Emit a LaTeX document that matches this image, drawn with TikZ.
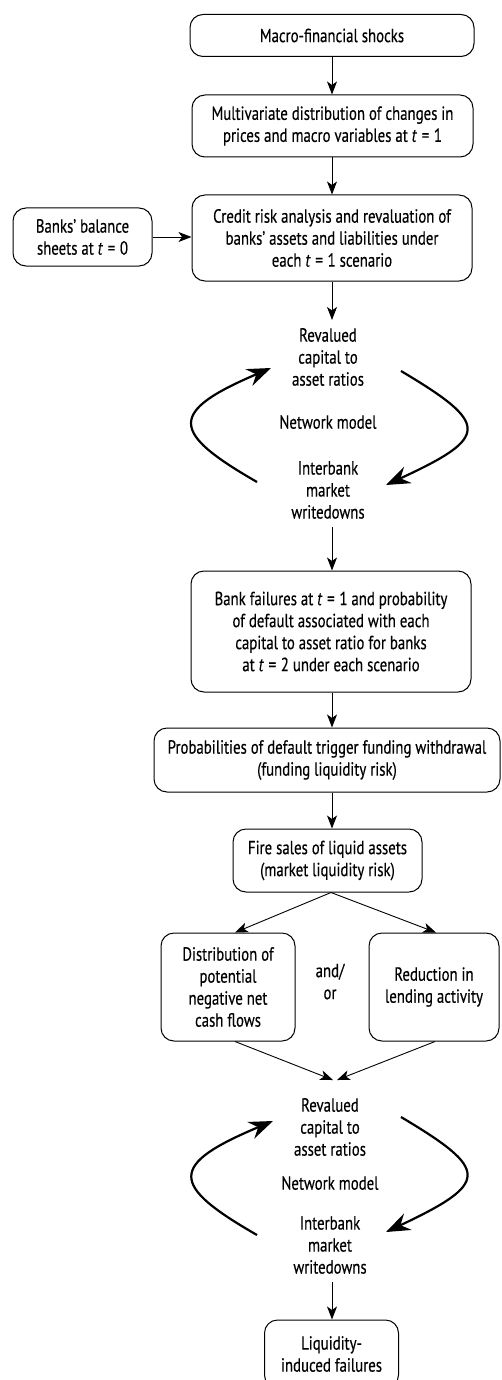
\documentclass[tikz,border=0pt]{standalone}
\usepackage{fontspec}
\setmainfont{PT Sans}[FakeStretch=0.78,FakeBold=0.35]
\usetikzlibrary{arrows.meta}
\newcommand{\tv}[1]{\textit{t}\hspace{0.25em}=\hspace{0.25em}#1}
\begin{document}
\begin{tikzpicture}[x=1pt,y=-1pt,
  font=\fontsize{19}{22}\selectfont,
  box/.style={draw, rounded corners=13pt, line width=1pt, align=center, inner sep=0pt},
  plain/.style={align=center, inner xsep=0pt, inner ysep=8pt},
  conn/.style={line width=0.9pt, -{Stealth[length=13pt,width=10pt,inset=3.5pt]}},
  loop/.style={line width=2.2pt, -{Stealth[length=24pt,width=18pt,inset=8pt]}}]
\clip (0,0) rectangle (502,1380);

\node[box, minimum width=284, minimum height=42] (m1) at (332,35.5) {Macro-financial shocks};
\node[box, minimum width=281, minimum height=62] (m2) at (332.5,126) {Multivariate distribution of changes in\\prices and macro variables at \tv{1}};
\node[box, minimum width=280, minimum height=86] (m3) at (332,238) {Credit risk analysis and revaluation of\\banks' assets and liabilities under\\each \tv{1} scenario};
\node[box, minimum width=139, minimum height=58] (bal) at (82.5,237) {Banks' balance\\sheets at \tv{0}};

\node[plain] (rev1) at (328,357) {Revalued\\capital to\\asset ratios};
\node[plain] (net1) at (328,422) {Network model};
\node[plain] (int1) at (328,490) {Interbank\\market\\writedowns};

\node[box, minimum width=280, minimum height=121] (bf) at (331,631.5) {Bank failures at \tv{1} and probability\\of default associated with each\\capital to asset ratio for banks\\at \tv{2} under each scenario};
\node[box, minimum width=346, minimum height=64] (pd) at (327,760) {Probabilities of default trigger funding withdrawal\\(funding liquidity risk)};
\node[box, minimum width=189, minimum height=63] (fs) at (327.5,860.5) {Fire sales of liquid assets\\(market liquidity risk)};
\node[box, minimum width=134, minimum height=108] (dist) at (228,987) {Distribution of\\potential\\negative net\\cash flows};
\node[box, minimum width=130, minimum height=108] (red) at (434,987) {Reduction in\\lending activity};
\node[align=center, inner sep=0pt] (andor) at (330,981.5) {and/\\or};

\node[plain] (rev2) at (330,1127) {Revalued\\capital to\\asset ratios};
\node[plain] (net2) at (330,1183) {Network model};
\node[plain] (int2) at (330,1245) {Interbank\\market\\writedowns};

\node[box, minimum width=134, minimum height=68] (liq) at (331.5,1354) {Liquidity-\\induced failures};

\coordinate (j1) at (333,1080);
\coordinate (j2) at (337,1080);

\draw[conn] (m1.south -| 332,0) -- (m2.north -| 332,0);
\draw[conn] (m2.south -| 332,0) -- (m3.north -| 332,0);
\draw[conn] (bal.east) -- (bal.east -| m3.west);
\draw[conn] (m3.south -| 332,0) -- (rev1.north -| 332,0);
\draw[conn] (int1.south -| 332,0) -- (bf.north -| 332,0);
\draw[conn] (bf.south -| 332,0) -- (pd.north -| 332,0);
\draw[conn] (pd.south -| 332,0) -- (fs.north -| 332,0);
\draw[conn] (fs.south -| 331,0) -- (dist.north -| 235,0);
\draw[conn] (fs.south -| 331,0) -- (red.north -| 436,0);
\draw[conn] (dist.south -| 235,0) -- (j1);
\draw[conn] (red.south -| 435,0) -- (j2);
\draw[conn] (int2.south -| 332,0) -- (liq.north -| 332,0);

% loops
\draw[loop] (257,482) .. controls (170,432) and (168,412) .. (271,368);
\draw[loop] (401,371) .. controls (490,424) and (490,437) .. (386,485);
\draw[loop] (257,1235) .. controls (170,1185) and (168,1165) .. (273,1121);
\draw[loop] (401,1117) .. controls (490,1170) and (490,1183) .. (386,1232);
\end{tikzpicture}
\end{document}
